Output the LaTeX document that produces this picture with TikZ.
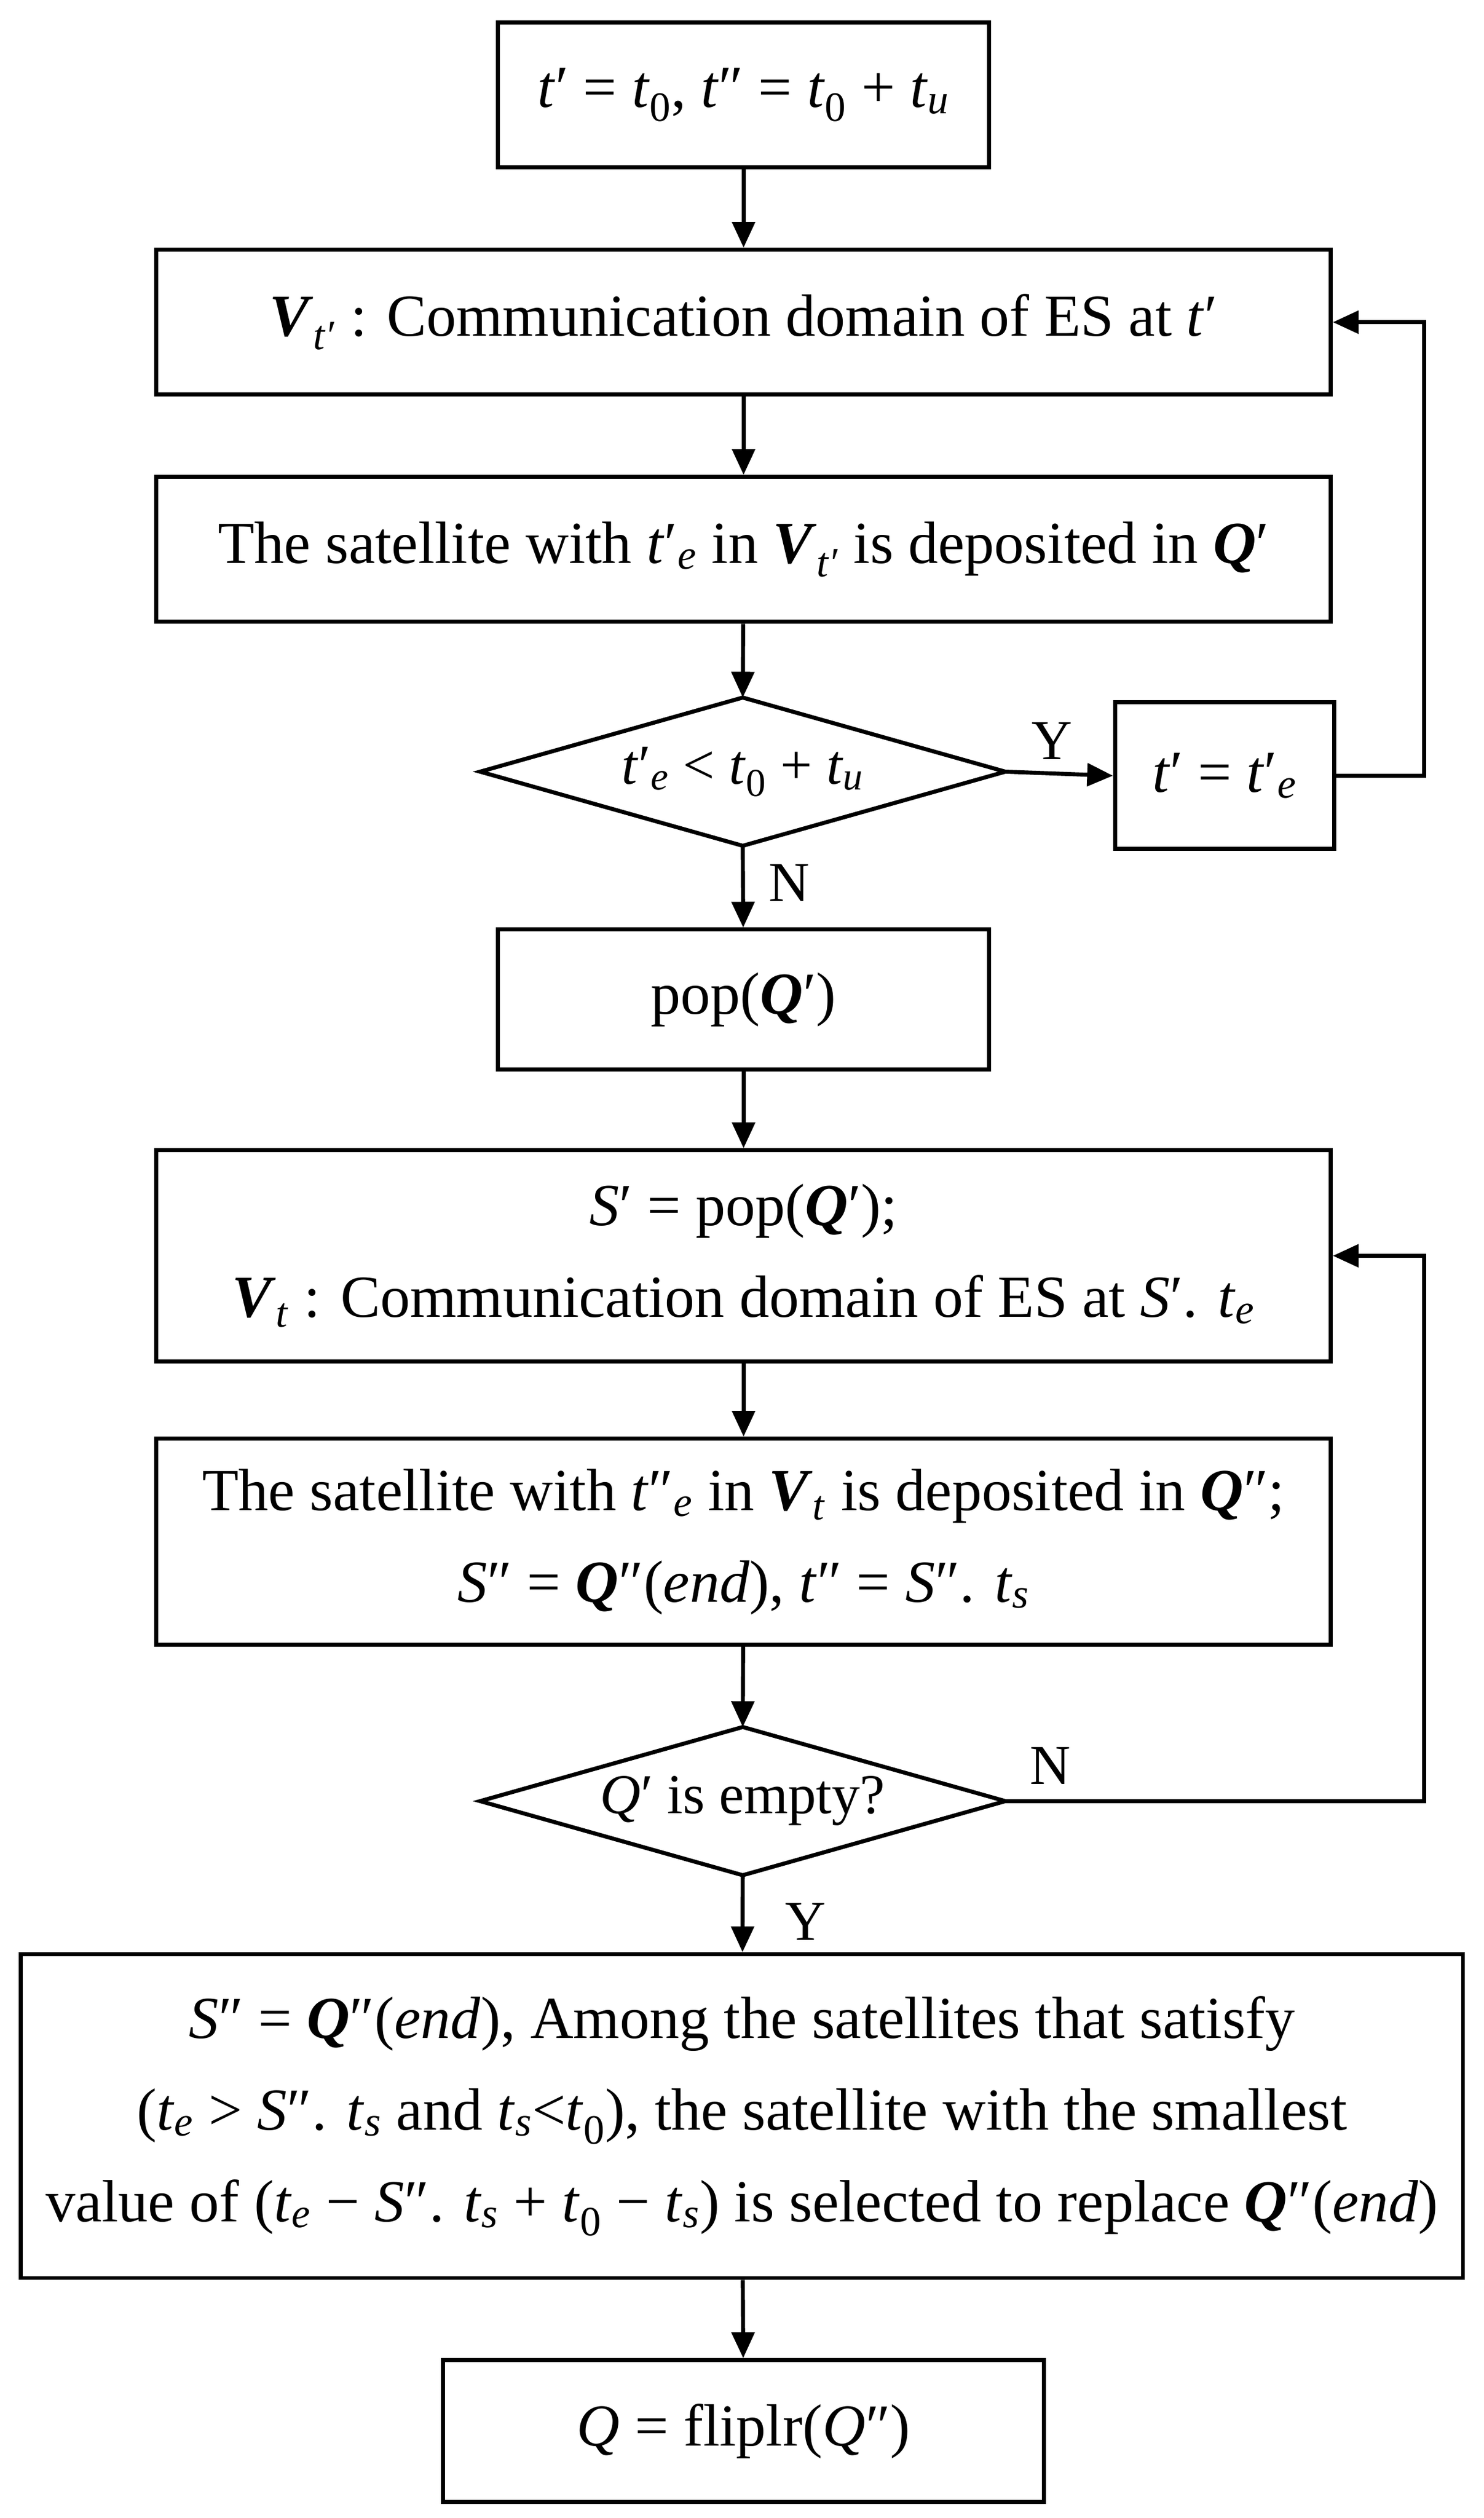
\documentclass[tikz,border=0pt]{standalone}
\usepackage{fontspec}
\setmainfont{Liberation Serif}
\usetikzlibrary{arrows.meta}
\newcommand{\mi}[1]{\textit{#1}}
\newcommand{\bi}[1]{\textbf{\textit{#1}}}
\newcommand{\sub}[1]{\textsubscript{\textit{#1}}}
\newcommand{\zs}{\textsubscript{0}}
\begin{document}
\begin{tikzpicture}[x=1pt,y=1pt,line width=2.5pt,
  box/.style={draw,rectangle,inner sep=0,align=center,font=\fontsize{37}{57}\selectfont},
  lab/.style={font=\fontsize{35}{40}\selectfont},
  arr/.style={-{Triangle[length=16pt,width=14pt]}}]
\useasboundingbox (0,0) rectangle (921,-1563);
\node[box,minimum width=305,minimum height=90] (b1) at (461.5,-59) {\mi{t}′ = \mi{t}\zs, \mi{t}″ = \mi{t}\zs{} + \mi{t}\sub{u}};
\node[box,minimum width=729,minimum height=90] (b2) at (461.5,-200) {\bi{V}\sub{t′} : Communication domain of ES at \mi{t}′};
\node[box,minimum width=729,minimum height=90] (b3) at (461.5,-341) {The satellite with \mi{t}′\sub{e} in \bi{V}\sub{t′} is deposited in \bi{Q}′};
% diamond 1
\coordinate (d1n) at (461,-433); \coordinate (d1s) at (461,-525);
\coordinate (d1w) at (298,-479); \coordinate (d1e) at (624,-479);
\draw (d1n) -- (d1e) -- (d1s) -- (d1w) -- cycle;
\node[lab] (d1) at (461,-479) {\mi{t}′\sub{e} < \mi{t}\zs{} + \mi{t}\sub{u}};
\node[box,minimum width=136,minimum height=91] (bt) at (760,-481.5) {\mi{t}′ = \mi{t}′\sub{e}};
\node[box,minimum width=305,minimum height=87] (b4) at (461.5,-620.5) {pop(\bi{Q}′)};
\node[box,minimum width=729,minimum height=131] (b5) at (461.5,-779.5) {\mi{S}′ = pop(\bi{Q}′);\\ \bi{V}\sub{t} : Communication domain of ES at \mi{S}′. \mi{t}\sub{e}};
\node[box,minimum width=729,minimum height=128] (b6) at (461.5,-957) {The satellite with \mi{t}″\sub{e} in \bi{V}\sub{t} is deposited in \bi{Q}″;\\ \mi{S}″ = \bi{Q}″(\mi{end}), \mi{t}″ = \mi{S}″. \mi{t}\sub{s}};
% diamond 2
\coordinate (d2n) at (461,-1072); \coordinate (d2s) at (461,-1164);
\coordinate (d2w) at (298,-1118); \coordinate (d2e) at (624,-1118);
\draw (d2n) -- (d2e) -- (d2s) -- (d2w) -- cycle;
\node[lab] (d2) at (461,-1118) {\mi{Q}′ is empty?};
\node[box,minimum width=895,minimum height=201] (b7) at (460.5,-1313.5) {\mi{S}″ = \bi{Q}″(\mi{end}), Among the satellites that satisfy\\ (\mi{t}\sub{e} > \mi{S}″. \mi{t}\sub{s} and \mi{t}\sub{s}<\mi{t}\zs), the satellite with the smallest\\ value of (\mi{t}\sub{e} − \mi{S}″. \mi{t}\sub{s} + \mi{t}\zs{} − \mi{t}\sub{s}) is selected to replace \bi{Q}″(\mi{end})};
\node[box,minimum width=373,minimum height=88] (b8) at (461.5,-1509) {\mi{Q} = fliplr(\mi{Q}″)};
\draw[arr] (b1) -- (b2);
\draw[arr] (b2) -- (b3);
\draw[arr] (b3) -- (d1n);
\draw[arr] (d1e) -- (bt.west);
\node[lab] (ly) at (653,-460) {Y};
\draw[arr] (d1s) -- (b4);
\node[lab] (ln) at (490,-548) {N};
\coordinate (c1) at (884,-481.5);
\coordinate (c2) at (884,-200);
\draw[arr] (bt.east) -- (c1) -- (c2) -- (b2.east);
\draw[arr] (b4) -- (b5);
\draw[arr] (b5) -- (b6);
\draw[arr] (b6) -- (d2n);
\draw[arr] (d2s) -- (b7);
\node[lab] (ly2) at (500,-1193) {Y};
\coordinate (c3) at (884,-1118);
\coordinate (c4) at (884,-779.5);
\draw[arr] (d2e) -- (c3) -- (c4) -- (b5.east);
\node[lab] (n2) at (652,-1096) {N};
\draw[arr] (b7) -- (b8);
\end{tikzpicture}
\end{document}
